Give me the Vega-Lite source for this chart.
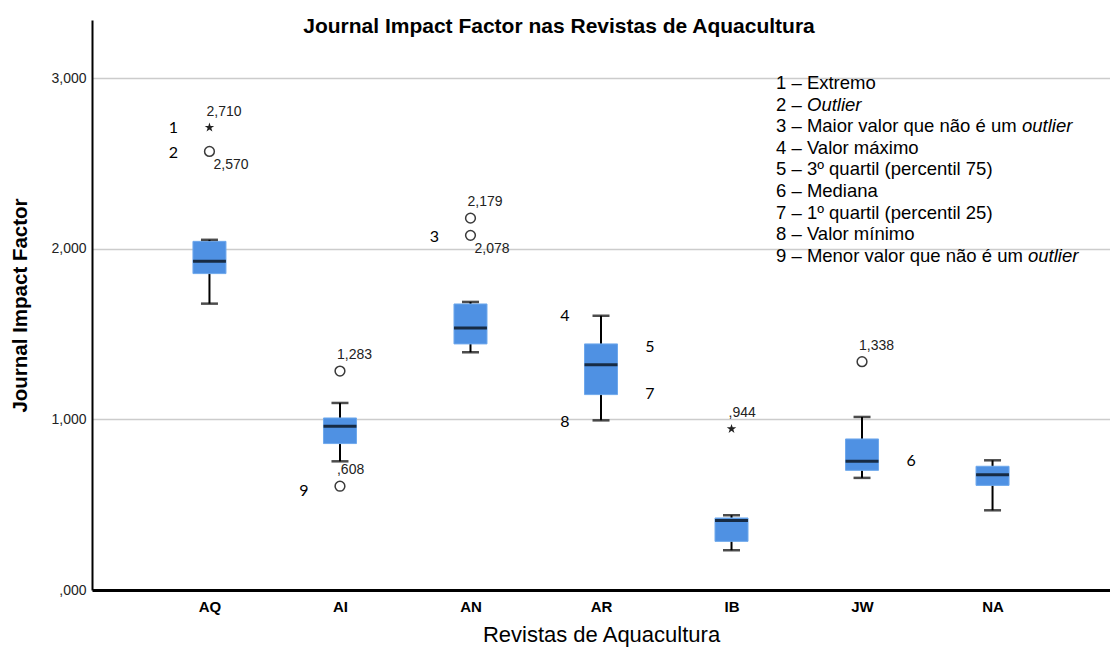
{
  "$schema": "https://vega.github.io/schema/vega-lite/v6.json",
  "width": 1018,
  "height": 570,
  "autosize": {"type": "none"},
  "padding": {"left": 92, "top": 20, "right": 0, "bottom": 63},
  "background": "white",
  "config": {"view": {"stroke": null}, "font": "Liberation Sans"},
  "title": {
    "text": "Journal Impact Factor nas Revistas de Aquacultura",
    "fontSize": 21, "fontWeight": "bold", "font": "Liberation Sans", "color": "black",
    "anchor": "middle", "frame": "group", "dx": -42, "offset": -34, "baseline": "alphabetic"
  },
  "datasets": {
    "stats": [
      {"journal": "AQ", "min": 1.678, "q1": 1.854, "median": 1.926, "q3": 2.043, "max": 2.052},
      {"journal": "AI", "min": 0.754, "q1": 0.858, "median": 0.959, "q3": 1.008, "max": 1.096},
      {"journal": "AN", "min": 1.393, "q1": 1.442, "median": 1.535, "q3": 1.676, "max": 1.688},
      {"journal": "AR", "min": 0.994, "q1": 1.145, "median": 1.320, "q3": 1.442, "max": 1.607},
      {"journal": "IB", "min": 0.233, "q1": 0.285, "median": 0.407, "q3": 0.422, "max": 0.438},
      {"journal": "JW", "min": 0.657, "q1": 0.701, "median": 0.754, "q3": 0.885, "max": 1.014},
      {"journal": "NA", "min": 0.467, "q1": 0.613, "median": 0.676, "q3": 0.725, "max": 0.760}
    ],
    "outliers": [
      {"journal": "AQ", "value": 2.710, "type": "extreme", "label": "2,710"},
      {"journal": "AQ", "value": 2.570, "type": "outlier", "label": "2,570"},
      {"journal": "AI", "value": 1.283, "type": "outlier", "label": "1,283"},
      {"journal": "AI", "value": 0.608, "type": "outlier", "label": ",608"},
      {"journal": "AN", "value": 2.179, "type": "outlier", "label": "2,179"},
      {"journal": "AN", "value": 2.078, "type": "outlier", "label": "2,078"},
      {"journal": "IB", "value": 0.944, "type": "extreme", "label": ",944"},
      {"journal": "JW", "value": 1.338, "type": "outlier", "label": "1,338"}
    ],
    "markers": [
      {"n": "1", "journal": "AQ", "value": 2.710},
      {"n": "2", "journal": "AQ", "value": 2.560},
      {"n": "3", "journal": "AN", "value": 2.068},
      {"n": "4", "journal": "AR", "value": 1.607},
      {"n": "5", "journal": "AR", "value": 1.425},
      {"n": "6", "journal": "JW", "value": 0.758},
      {"n": "7", "journal": "AR", "value": 1.150},
      {"n": "8", "journal": "AR", "value": 0.985},
      {"n": "9", "journal": "AI", "value": 0.583}
    ],
    "legend": [
      {"n": 1, "value": 2.971, "text": "1 – Extremo"},
      {"n": 2, "value": 2.844, "text": "2 – "},
      {"n": 3, "value": 2.718, "text": "3 – Maior valor que não é um "},
      {"n": 4, "value": 2.591, "text": "4 – Valor máximo"},
      {"n": 5, "value": 2.465, "text": "5 – 3º quartil (percentil 75)"},
      {"n": 6, "value": 2.338, "text": "6 – Mediana"},
      {"n": 7, "value": 2.211, "text": "7 – 1º quartil (percentil 25)"},
      {"n": 8, "value": 2.085, "text": "8 – Valor mínimo"},
      {"n": 9, "value": 1.958, "text": "9 – Menor valor que não é um "}
    ],
    "legendItalic": [
      {"n": 2, "value": 2.844, "text": "Outlier"},
      {"n": 3, "value": 2.718, "text": "outlier"},
      {"n": 9, "value": 1.958, "text": "outlier"}
    ]
  },
  "encoding": {
    "x": {
      "field": "journal", "type": "nominal",
      "sort": ["AQ", "AI", "AN", "AR", "IB", "JW", "NA"],
      "scale": {"type": "point", "padding": 0.9, "domain": ["AQ", "AI", "AN", "AR", "IB", "JW", "NA"]},
      "axis": {
        "title": "Revistas de Aquacultura", "titleFontSize": 22, "titleFontWeight": "normal",
        "titleColor": "black", "titlePadding": 10, "titleFont": "Liberation Sans",
        "labelFontSize": 15, "labelFontWeight": "bold", "labelColor": "black", "labelAngle": 0,
        "labelPadding": 9, "ticks": false, "domainColor": "black", "domainWidth": 3, "grid": false
      }
    }
  },
  "layer": [
    {
      "data": {"name": "stats"},
      "mark": {"type": "rule", "color": "black", "strokeWidth": 2},
      "encoding": {
        "y": {
          "field": "min", "type": "quantitative",
          "scale": {"domain": [0, 3.34], "nice": false, "zero": true},
          "axis": {
            "title": "Journal Impact Factor", "titleFontSize": 20.5, "titleFontWeight": "bold",
            "titleColor": "black", "titlePadding": 20, "titleFont": "Liberation Sans",
            "values": [0, 1, 2, 3],
            "labelExpr": "datum.value == 0 ? ',000' : replace(format(datum.value, '.3f'), '.', ',')",
            "labelFontSize": 14, "labelColor": "#222222", "labelPadding": 6, "ticks": false,
            "domainColor": "black", "domainWidth": 2,
            "grid": true, "gridWidth": 1.5,
            "gridColor": {"condition": {"test": "datum.value === 0", "value": "transparent"}, "value": "#cccccc"}
          }
        },
        "y2": {"field": "max"}
      }
    },
    {
      "data": {"name": "stats"},
      "mark": {"type": "bar", "color": "#4F91E3", "stroke": "#6EA8EC", "strokeWidth": 1, "size": 33},
      "encoding": {
        "y": {"field": "q1", "type": "quantitative"},
        "y2": {"field": "q3"}
      }
    },
    {
      "data": {"name": "stats"},
      "mark": {"type": "tick", "color": "black", "size": 33, "thickness": 3},
      "encoding": {"y": {"field": "median", "type": "quantitative"}}
    },
    {
      "data": {"name": "stats"},
      "mark": {"type": "tick", "color": "black", "size": 17, "thickness": 2.5},
      "encoding": {"y": {"field": "min", "type": "quantitative"}}
    },
    {
      "data": {"name": "stats"},
      "mark": {"type": "tick", "color": "black", "size": 17, "thickness": 2.5},
      "encoding": {"y": {"field": "max", "type": "quantitative"}}
    },
    {
      "data": {"name": "outliers"},
      "transform": [{"filter": "datum.type == 'outlier'"}],
      "mark": {"type": "point", "shape": "circle", "filled": false, "stroke": "#3a3a3a", "strokeWidth": 1.5, "size": 95, "opacity": 1},
      "encoding": {"y": {"field": "value", "type": "quantitative"}}
    },
    {
      "data": {"name": "outliers"},
      "transform": [{"filter": "datum.type == 'extreme'"}],
      "mark": {
        "type": "point", "filled": true, "color": "#222222", "size": 100, "opacity": 1,
        "shape": "M0,-1 L0.225,-0.309 L0.951,-0.309 L0.363,0.118 L0.588,0.809 L0,0.382 L-0.588,0.809 L-0.363,0.118 L-0.951,-0.309 L-0.225,-0.309 Z"
      },
      "encoding": {"y": {"field": "value", "type": "quantitative"}}
    },
    {
      "data": {"name": "outliers"},
      "transform": [{"filter": "datum.label != '2,570' && datum.label != '2,078'"}],
      "mark": {"type": "text", "align": "left", "baseline": "middle", "dx": -3, "dy": -16, "fontSize": 14, "color": "#222222"},
      "encoding": {"y": {"field": "value", "type": "quantitative"}, "text": {"field": "label"}}
    },
    {
      "data": {"name": "outliers"},
      "transform": [{"filter": "datum.label == '2,570' || datum.label == '2,078'"}],
      "mark": {"type": "text", "align": "left", "baseline": "middle", "dx": 4, "dy": 14, "fontSize": 14, "color": "#222222"},
      "encoding": {"y": {"field": "value", "type": "quantitative"}, "text": {"field": "label"}}
    },
    {
      "data": {"name": "markers"},
      "transform": [{"filter": "indexof(['5','6','7'], datum.n) < 0"}],
      "mark": {"type": "text", "align": "center", "baseline": "middle", "dx": -36, "fontSize": 16, "font": "Lato", "color": "black"},
      "encoding": {"y": {"field": "value", "type": "quantitative"}, "text": {"field": "n"}}
    },
    {
      "data": {"name": "markers"},
      "transform": [{"filter": "indexof(['5','6','7'], datum.n) >= 0"}],
      "mark": {"type": "text", "align": "center", "baseline": "middle", "dx": 49, "fontSize": 16, "font": "Lato", "color": "black"},
      "encoding": {"y": {"field": "value", "type": "quantitative"}, "text": {"field": "n"}}
    },
    {
      "data": {"name": "legend"},
      "mark": {"type": "text", "align": "left", "baseline": "middle", "dx": -86, "fontSize": 18.5, "color": "black"},
      "encoding": {
        "x": {"datum": "JW", "type": "nominal"},
        "y": {"field": "value", "type": "quantitative"},
        "text": {"field": "text"}
      }
    },
    {
      "data": {"name": "legendItalic"},
      "transform": [{"filter": "datum.n == 2"}],
      "mark": {"type": "text", "align": "left", "baseline": "middle", "dx": -55, "fontSize": 18.5, "fontStyle": "italic", "color": "black"},
      "encoding": {
        "x": {"datum": "JW", "type": "nominal"},
        "y": {"field": "value", "type": "quantitative"},
        "text": {"field": "text"}
      }
    },
    {
      "data": {"name": "legendItalic"},
      "transform": [{"filter": "datum.n == 3"}],
      "mark": {"type": "text", "align": "left", "baseline": "middle", "dx": 160, "fontSize": 18.5, "fontStyle": "italic", "color": "black"},
      "encoding": {
        "x": {"datum": "JW", "type": "nominal"},
        "y": {"field": "value", "type": "quantitative"},
        "text": {"field": "text"}
      }
    },
    {
      "data": {"name": "legendItalic"},
      "transform": [{"filter": "datum.n == 9"}],
      "mark": {"type": "text", "align": "left", "baseline": "middle", "dx": 166, "fontSize": 18.5, "fontStyle": "italic", "color": "black"},
      "encoding": {
        "x": {"datum": "JW", "type": "nominal"},
        "y": {"field": "value", "type": "quantitative"},
        "text": {"field": "text"}
      }
    }
  ]
}
